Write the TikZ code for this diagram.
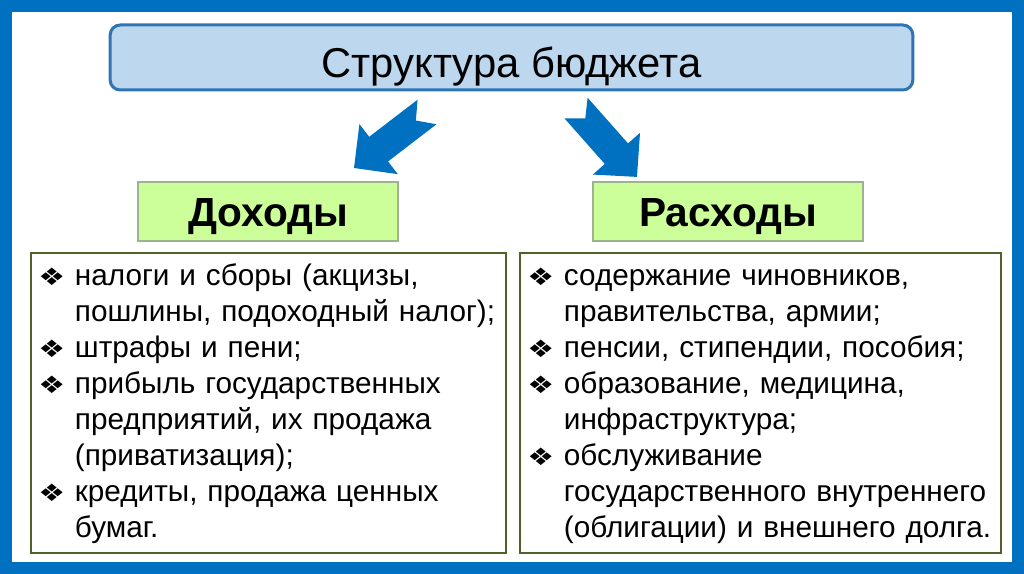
\documentclass[tikz,border=0pt]{standalone}
\usepackage{fontspec}
\usepackage{graphicx}
\setmainfont{Liberation Sans}
\newfontfamily\symfont{DejaVu Sans}
\usetikzlibrary{positioning}

\definecolor{frameblue}{HTML}{0070C0}
\definecolor{titlefill}{HTML}{BDD7EE}
\definecolor{titledraw}{HTML}{2E75B6}
\definecolor{headfill}{HTML}{CCFF99}
\definecolor{headdraw}{HTML}{9FB28E}
\definecolor{listdraw}{HTML}{4F6228}

\newcommand{\bul}[1]{\mbox{\makebox[25.5pt][l]{\hspace*{-2pt}\raisebox{0.5pt}{\scalebox{1.25}[1]{\symfont\fontsize{18}{18}\selectfont ❖}}}#1}}
\newcommand{\cnt}[1]{\mbox{\hspace*{25.5pt}#1}}

\begin{document}
\begin{tikzpicture}[
    x=0.75pt, y=-0.75pt,
    titlebox/.style={draw=titledraw, fill=titlefill, line width=2.25pt,
                     rounded corners=7.5pt, minimum width=602pt, minimum height=48.75pt,
                     text height=30pt, text depth=0pt,
                     font=\fontsize{31.3}{36}\selectfont},
    headbox/.style={draw=headdraw, fill=headfill, line width=0.8pt,
                    minimum height=44.25pt, text height=22pt, text depth=0pt,
                    font=\fontsize{30.5}{36}\selectfont\bfseries},
    listbox/.style={draw=listdraw, line width=1.4pt, anchor=north west, align=left,
                    inner xsep=7.5pt, inner ysep=0pt,
                    text height=24.75pt, text depth=200.25pt,
                    font=\fontsize{22.3}{27}\selectfont},
    bigarrow/.style={fill=frameblue},
]
% frame
\useasboundingbox (0,0) rectangle (1024,574);
\fill[frameblue] (0,0) rectangle (1024,574);
\fill[white] (12,12) rectangle (1012,562);

% title and headings
\node[titlebox] (title) at (511.5,57.5) {Структура бюджета};
\node[headbox, minimum width=195pt] (inc) at (268,211.5) {Доходы};
\node[headbox, minimum width=202.5pt] (exp) at (728,211.5) {Расходы};

% lists
\node[listbox, text width=341pt] (inclist) at (30,252) {%
  \bul{налоги и сборы (акцизы,}\\
  \cnt{пошлины, подоходный налог);}\\
  \bul{штрафы и пени;}\\
  \bul{прибыль государственных}\\
  \cnt{предприятий, их продажа}\\
  \cnt{(приватизация);}\\
  \bul{кредиты, продажа ценных}\\
  \cnt{бумаг.}};
\node[listbox, text width=345.5pt] (explist) at (519,252) {%
  \bul{содержание чиновников,}\\
  \cnt{правительства, армии;}\\
  \bul{пенсии, стипендии, пособия;}\\
  \bul{образование, медицина,}\\
  \cnt{инфраструктура;}\\
  \bul{обслуживание}\\
  \cnt{государственного внутреннего}\\
  \cnt{(облигации) и внешнего долга.}};

% block arrows
\coordinate (incarrow) at (427,112);
\coordinate (exparrow) at (576,108);
\foreach \c/\ang in {incarrow/217.5, exparrow/-48.5}
  \fill[bigarrow, shift={(\c)}, rotate=\ang]
    (0,15.5) -- (61,15.5) -- (61,31.5) -- (92,0) -- (61,-31.5)
    -- (61,-15.5) -- (0,-15.5) -- (14,0) -- cycle;
\end{tikzpicture}
\end{document}
